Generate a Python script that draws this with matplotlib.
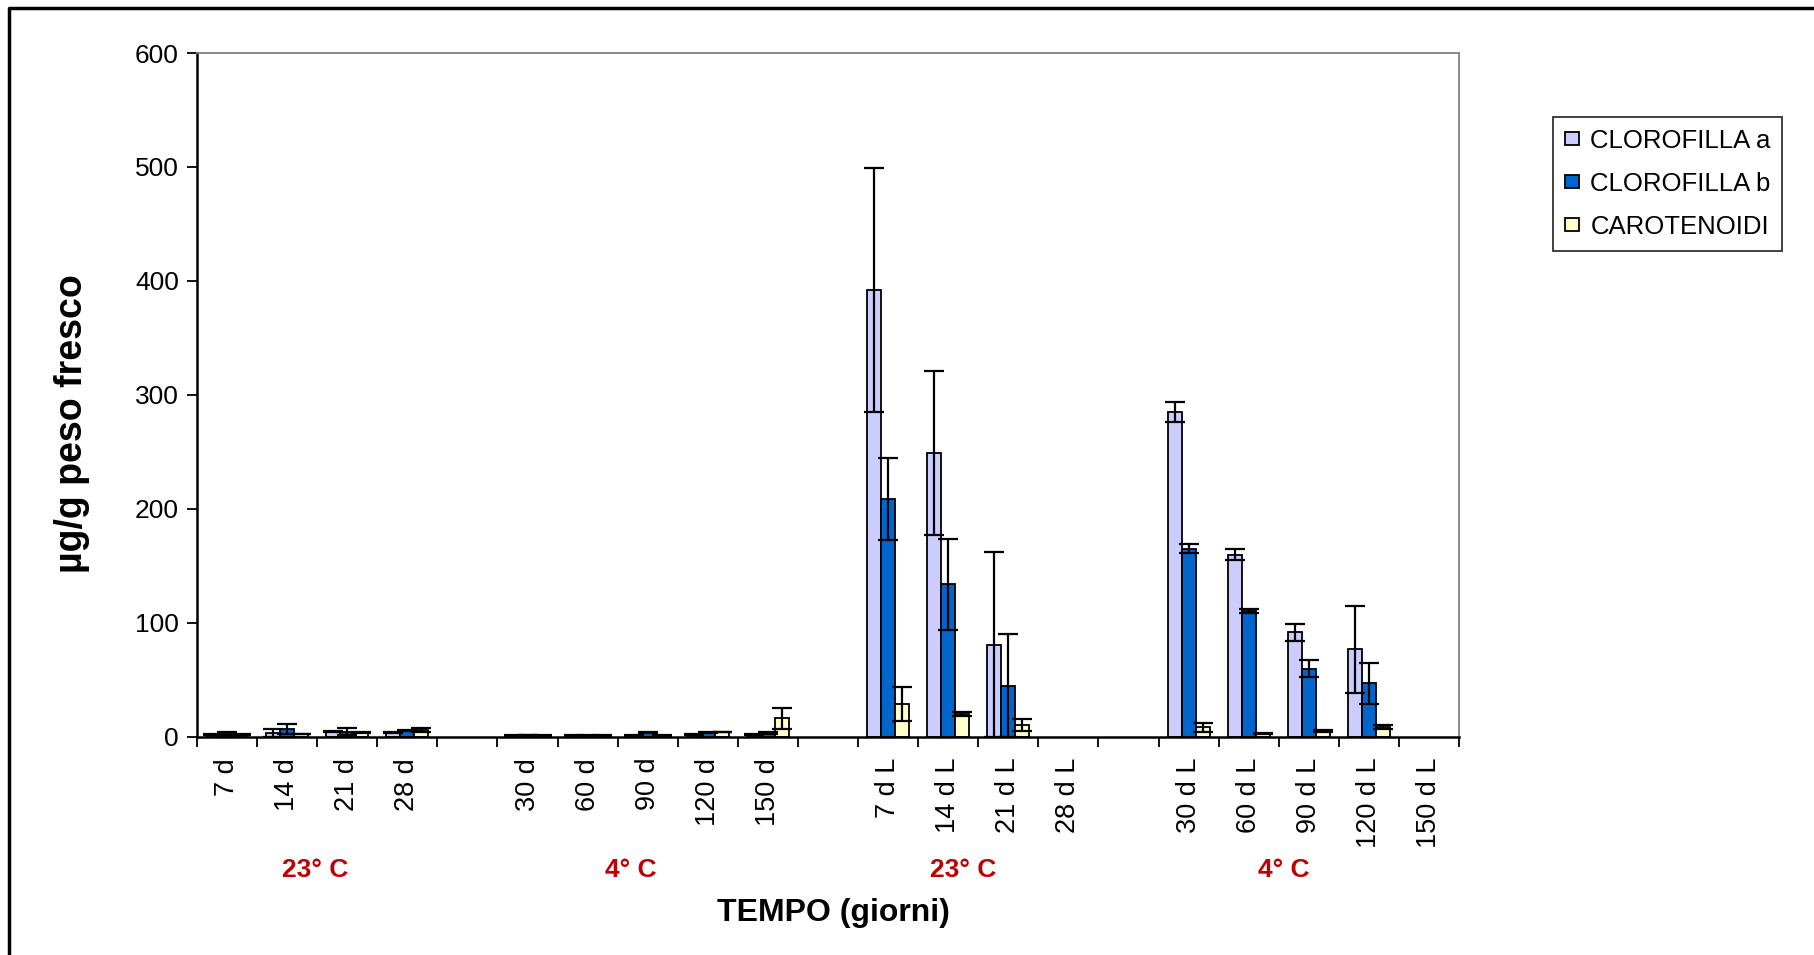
import matplotlib
matplotlib.use("Agg")
import matplotlib.pyplot as plt
import numpy as np

plt.rcParams['font.family'] = ['Liberation Sans', 'DejaVu Sans']

nan = np.nan

# campioni (le celle vuote separano i gruppi)
campioni = ['7 d', '14 d', '21 d', '28 d', '',
            '30 d', '60 d', '90 d', '120 d', '150 d', '',
            '7 d L', '14 d L', '21 d L', '28 d L', '',
            '30 d L', '60 d L', '90 d L', '120 d L', '150 d L']

clorofilla_a = [2, 3.5, 5, 4, nan, 1.5, 1.5, 1.5, 2.3, 2, nan,
                 392, 249, 81, nan, nan, 285, 160, 92, 77, nan]
err_a = [0.3, 3.5, 0.5, 0.3, nan, 0.3, 0.3, 0.3, 0.3, 0.3, nan,
         107, 72, 81, nan, nan, 9, 5, 7.5, 38, nan]

clorofilla_b = [3, 7, 4.5, 5.8, nan, 1.8, 1.5, 3.8, 4, 3.5, nan,
                209, 134, 45, nan, nan, 165, 110.5, 60, 47, nan]
err_b = [1, 4, 3, 0.3, nan, 0.3, 0.3, 0.5, 0.3, 0.5, nan,
         36, 40, 45, nan, nan, 4, 1.5, 7.3, 18, nan]

carotenoidi = [2, 2.5, 4, 6.2, nan, 1.5, 1.5, 1.5, 4.4, 16.4, nan,
               29, 20, 10.5, nan, nan, 8.5, 3.2, 5.3, 8.8, nan]
err_c = [0.3, 0.3, 0.3, 1.5, nan, 0.3, 0.3, 0.3, 0.3, 9.3, nan,
         15, 2, 5.5, nan, nan, 4, 0.5, 0.5, 1.5, nan]

gruppi = ['23° C', '4° C', '23° C', '4° C']
pos_gruppi = [1.46, 6.72, 12.25, 17.59]

fig = plt.figure(figsize=(18.14, 9.55), dpi=100)
ax = fig.add_axes([0.1086, 0.2283, 0.6957, 0.7162])

x = np.arange(len(campioni))
w = 0.233
serie = [(clorofilla_a, err_a, '#CCCCFF', 'CLOROFILLA a'),
         (clorofilla_b, err_b, '#0066CC', 'CLOROFILLA b'),
         (carotenoidi, err_c, '#FFFFCC', 'CAROTENOIDI')]

for i, (val, err, col, nome) in enumerate(serie):
    xs = x + (i - 1) * w
    ax.bar(xs, val, width=w, color=col, edgecolor='black', linewidth=1.3,
           label=nome, zorder=2)
    ax.errorbar(xs, val, yerr=err, fmt='none', ecolor='black', elinewidth=1.6,
                capsize=7, capthick=1.6, zorder=3)

ax.set_xlim(-0.5, len(campioni) - 0.5)
ax.set_ylim(0, 600)
ax.set_yticks(np.arange(0, 601, 100))
ax.tick_params(axis='y', labelsize=19, direction='out', length=7, width=1.3, pad=6)

ax.set_xticks(x)
ax.set_xticklabels(campioni, rotation=90, fontsize=19.5)
ax.tick_params(axis='x', which='major', length=0, pad=15)
ax.set_xticks(np.arange(-0.5, len(campioni), 1), minor=True)
ax.tick_params(axis='x', which='minor', length=7, width=1.3, direction='out')

for s in ['left', 'bottom']:
    ax.spines[s].set_linewidth(1.8)
    ax.spines[s].set_color('black')
for s in ['top', 'right']:
    ax.spines[s].set_linewidth(1.3)
    ax.spines[s].set_color('#808080')

# etichette dei gruppi sotto le etichette dei campioni
for g, p in zip(gruppi, pos_gruppi):
    ax.text(p, -0.1944, g, transform=ax.get_xaxis_transform(), ha='center',
            va='center', fontsize=19, fontweight='bold', color='#C00000')

fig.text(833 / 1814, 1 - 913 / 955, 'TEMPO (giorni)', ha='center', va='center',
         fontsize=23, fontweight='bold')
fig.text(72 / 1814, 1 - 424 / 955, 'µg/g peso fresco', ha='center', va='center',
         rotation=90, fontsize=27, fontweight='bold')

leg = fig.legend(loc='upper left', bbox_to_anchor=(1553 / 1814, 1 - 117 / 955),
                 fontsize=18.5, frameon=True, fancybox=False, edgecolor='black',
                 handlelength=0.55, handleheight=0.4, handletextpad=0.45,
                 borderpad=0.45, labelspacing=0.75, borderaxespad=0)
leg.get_frame().set_linewidth(1.3)

# cornice esterna (lati sinistro e superiore)
fig.add_artist(plt.Line2D([9 / 1814, 9 / 1814, 1.0], [0.0, 1 - 8 / 955, 1 - 8 / 955],
                          transform=fig.transFigure, color='black', linewidth=2.5))

fig.savefig('out.png', dpi=100)
